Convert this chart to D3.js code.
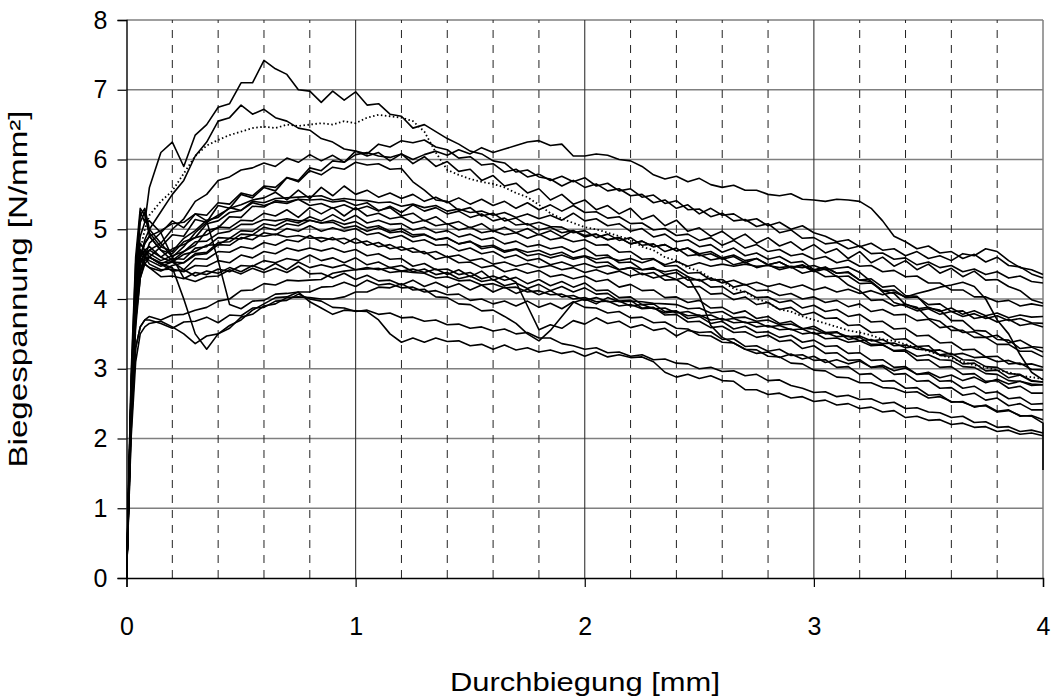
<!DOCTYPE html>
<html><head><meta charset="utf-8">
<script src="https://cdn.jsdelivr.net/npm/d3@7"></script>
<style>body{margin:0;background:#fff}svg{display:block}text{font-family:"Liberation Sans",Arial,sans-serif;fill:#000}</style>
</head><body>
<svg id="chart" width="1053" height="700"></svg>
<script>
// ---------- data ----------
const xTickValues = [0,1,2,3,4];
const yTickValues = [0,1,2,3,4,5,6,7,8];
const xMinorValues = [0.2,0.4,0.6,0.8,1.2,1.4,1.6,1.8,2.2,2.4,2.6,2.8,3.2,3.4,3.6,3.8];
const xTitle = "Durchbiegung [mm]";
const yTitle = "Biegespannung [N/mm²]";
// deflection sample positions (mm): start of loading, then every 0.05 mm, plus a final reading at 4 mm
const xSamples = [0,0.02,0.04,0.06,0.08].concat(d3.range(0,79).map(i=>+(0.1+i*0.05).toFixed(2))).concat([4.0]);

// stress readings (N/mm²) of each specimen at xSamples
const c01 = [0,2.6,4.3,5.25,5.1,5.6, 6.1,6.25,5.9,6.35,6.5,6.75,6.8,7.1,7.1,7.42, 7.3,7.22,7.0,6.98,6.82,6.98,6.85,6.97,6.78,6.8, 6.65,6.62,6.45,6.5,6.4,6.3,6.22,6.12,6.08,5.98, 5.95,5.82,5.85,5.75,5.72,5.62,5.7,5.6,5.65,5.55, 5.58,5.48,5.5,5.38,5.42,5.3,5.35,5.22,5.3,5.2, 5.22,5.12,5.15,5.05,5.1,5.0,5.05,4.95,4.9,4.82, 4.85,4.75,4.8,4.7,4.72,4.62,4.68,4.58,4.62,4.55, 4.65,4.62,4.72,4.68,4.55,4.45,4.42,4.35];
const c02 = [0,2.4,4.0,4.7,5.0,5.2, 5.4,5.55,5.8,6.05,6.2,6.28,6.35,6.4,6.45,6.47, 6.45,6.5,6.48,6.5,6.52,6.5,6.55,6.52,6.6,6.64, 6.62,6.6,6.55,6.4,6.1,5.85,5.78,5.72,5.68,5.65, 5.6,5.52,5.46,5.35,5.23,5.15,5.09,5.03,5.0,4.95, 4.9,4.85,4.75,4.7,4.6,4.55,4.45,4.4,4.3,4.25, 4.15,4.1,4.0,3.95,3.85,3.82,3.75,3.7,3.65,3.6, 3.55,3.52,3.48,3.42,3.4,3.35,3.3,3.25,3.2,3.15, 3.1,3.05,3.02,2.98,2.95,2.9,2.88,2.85];
const c03 = [0,2.5,3.9,4.6,4.85,5.0, 5.25,5.5,5.7,6.05,6.25,6.55,6.6,6.78,6.65,6.72, 6.6,6.55,6.45,6.42,6.3,6.25,6.15,6.12,6.05,6.1, 5.98,6.08,5.94,6.04,5.9,5.97,5.83,5.86,5.7,5.77, 5.62,5.66,5.52,5.58,5.42,5.5,5.36,5.42,5.28,5.34, 5.22,5.3,5.14,5.2,5.05,5.13,4.97,5.02,4.9,4.97, 4.85,4.93,4.8,4.88,4.76,4.82,4.7,4.78,4.66,4.72, 4.58,4.68,4.52,4.6,4.47,4.55,4.42,4.5,4.37,4.44, 4.32,4.4,4.27,4.28,4.18,4.12,3.99,3.94];
const c04 = [0,2.4,3.8,4.4,4.6,4.7, 4.8,5.0,5.15,5.4,5.5,5.7,5.75,5.85,5.88,5.95, 5.9,6.02,5.96,6.07,5.98,6.06,5.96,6.07,6.1,6.05, 6.03,6.08,6.0,6.07,6.12,6.06,6.14,6.08,6.17,6.1, 6.15,6.2,6.25,6.27,6.2,6.22,6.05,6.05,6.08,6.06, 6.0,5.98,5.9,5.78,5.72,5.76,5.68,5.73,5.64,5.6, 5.63,5.56,5.56,5.5,5.48,5.51,5.43,5.42,5.4,5.43, 5.42,5.4,5.3,5.12,4.9,4.82,4.72,4.76,4.66,4.68, 4.58,4.64,4.53,4.6,4.48,4.46,4.36,4.3];
const c05 = [0,2.3,3.7,4.4,4.6,4.8, 4.95,5.12,5.02,5.22,5.2,5.38,5.36,5.52,5.48,5.62, 5.6,5.74,5.7,5.88,5.84,5.98,5.96,6.12,6.08,6.22, 6.18,6.27,6.24,6.28,6.18,6.14,6.02,6.04,5.92,5.94, 5.82,5.86,5.75,5.79,5.7,5.76,5.68,5.74,5.62,5.66, 5.55,5.58,5.46,5.49,5.37,5.41,5.28,5.29,5.18,5.23, 5.12,5.14,5.04,5.08,4.95,4.99,4.87,4.88,4.79,4.81, 4.72,4.76,4.65,4.66,4.57,4.59,4.49,4.53,4.45,4.48, 4.39,4.43,4.35,4.39,4.3,4.33,4.25,4.23];
const c06 = [0,2.5,4.0,4.7,4.6,4.6, 4.75,4.92,4.9,5.14,5.1,5.34,5.3,5.5,5.45,5.6, 5.55,5.74,5.68,5.84,5.78,5.89,5.86,5.96,5.92,5.94, 5.86,5.87,5.68,5.56,5.42,5.4,5.27,5.31,5.19,5.23, 5.12,5.16,5.06,5.1,5.04,5.03,4.95,4.98,4.88,4.93, 4.84,4.88,4.77,4.79,4.68,4.73,4.62,4.64,4.56,4.59, 4.49,4.53,4.45,4.49,4.42,4.46,4.37,4.41,4.32,4.33, 4.2,4.12,3.98,3.99,3.9,3.93,3.86,3.88,3.82,3.87, 3.78,3.83,3.76,3.8,3.73,3.77,3.74,3.75];
const m01 = [0,2.8,4.5,5.2,5.3,5.0, 4.8,4.6,4.75,4.95,5.1,5.2,5.3,5.35,5.42,5.45, 5.53,5.42,5.56,5.44,5.6,5.48,5.62,5.5,5.56,5.46, 5.52,5.44,5.5,5.4,5.46,5.38,5.45,5.36,5.43,5.34, 5.4,5.3,5.38,5.28,5.35,5.26,5.34,5.24,5.25,5.16, 5.18,5.08,5.09,4.99,5.01,4.91,4.93,4.84,4.88,4.77, 4.84,4.73,4.78,4.68,4.71,4.62,4.65,4.57,4.61,4.52, 4.56,4.47,4.48,4.39,4.41,4.32,4.33,4.23,4.23,4.13, 4.13,4.03,4.03,3.96,3.98,3.9,3.93,3.9];
const m02 = [0,2.5,4.0,4.6,4.8,4.9, 4.7,4.65,4.82,4.88,5.08,5.12,5.24,5.27,5.4,5.38, 5.44,5.45,5.46,5.47,5.48,5.42,5.44,5.42,5.41,5.38, 5.39,5.33,5.36,5.31,5.34,5.26,5.29,5.24,5.26,5.2, 5.24,5.17,5.22,5.15,5.2,5.13,5.23,5.12,5.15,5.05, 5.08,4.97,5.01,4.89,4.93,4.82,4.85,4.75,4.78,4.67, 4.73,4.62,4.66,4.57,4.61,4.52,4.54,4.42,4.46,4.37, 4.39,4.27,4.29,4.17,4.19,4.05,4.04,3.87,3.84,3.69, 3.69,3.55,3.54,3.42,3.41,3.29,3.31,3.24];
const m03 = [0,2.7,4.3,5.1,5.25,4.9, 4.7,4.55,4.68,4.77,4.98,5.02,5.18,5.17,5.33,5.32, 5.41,5.39,5.43,5.42,5.43,5.39,5.41,5.34,5.38,5.27, 5.31,5.19,5.23,5.12,5.18,5.07,5.11,5.02,5.08,4.97, 5.03,4.95,5.01,4.92,4.98,4.89,4.98,4.91,4.93,4.85, 4.88,4.79,4.83,4.75,4.78,4.69,4.73,4.62,4.65,4.57, 4.61,4.52,4.58,4.49,4.53,4.45,4.49,4.41,4.45,4.37, 4.38,4.27,4.25,4.12,4.08,3.92,3.88,3.72,3.68,3.55, 3.55,3.45,3.45,3.35,3.35,3.25,3.25,3.17];
const m04 = [0,2.4,3.9,4.5,4.7,4.75, 4.6,4.72,4.78,4.88,4.92,5.03,5.02,5.13,5.12,5.23, 5.19,5.28,5.17,5.31,5.22,5.31,5.19,5.31,5.19,5.23, 5.15,5.18,5.09,5.13,5.05,5.08,4.99,5.03,4.95,4.98, 4.92,4.95,4.87,4.93,4.85,4.88,4.82,4.85,4.77,4.78, 4.67,4.68,4.57,4.58,4.47,4.48,4.37,4.38,4.27,4.28, 4.17,4.21,4.12,4.13,4.05,4.08,4.0,4.03,3.95,3.98, 3.89,3.93,3.82,3.85,3.77,3.78,3.69,3.71,3.59,3.61, 3.52,3.53,3.45,3.48,3.37,3.41,3.32,3.3];
const m05 = [0,2.6,4.1,4.8,4.7,4.6, 4.5,4.58,4.57,4.73,4.75,4.88,4.87,4.98,4.97,5.08, 5.05,5.13,5.09,5.18,5.12,5.21,5.12,5.2,5.09,5.13, 5.07,5.08,4.99,5.03,4.95,4.98,4.89,4.93,4.85,4.88, 4.79,4.83,4.75,4.78,4.72,4.75,4.67,4.73,4.62,4.63, 4.52,4.53,4.42,4.45,4.35,4.38,4.27,4.28,4.17,4.18, 4.07,4.11,4.02,4.03,3.95,3.98,3.87,3.91,3.82,3.85, 3.75,3.78,3.67,3.68,3.57,3.58,3.47,3.48,3.37,3.38, 3.27,3.28,3.17,3.18,3.07,3.08,2.99,2.98];
const m06 = [0,2.3,3.8,4.4,4.6,4.55, 4.47,4.53,4.52,4.65,4.67,4.81,4.82,4.93,4.92,5.03, 4.99,5.08,5.05,5.13,5.09,5.13,5.07,5.11,5.02,5.05, 4.97,5.01,4.92,4.93,4.85,4.88,4.79,4.83,4.72,4.75, 4.67,4.71,4.62,4.65,4.59,4.63,4.57,4.61,4.52,4.53, 4.42,4.45,4.35,4.38,4.27,4.28,4.17,4.18,4.07,4.08, 3.99,4.03,3.92,3.95,3.85,3.88,3.77,3.81,3.72,3.73, 3.62,3.63,3.52,3.53,3.42,3.43,3.32,3.33,3.19,3.18, 3.07,3.08,2.97,2.98,2.87,2.91,2.82,2.81];
const m07 = [0,2.5,4.0,4.6,4.5,4.45, 4.4,4.48,4.52,4.63,4.65,4.78,4.77,4.88,4.85,4.95, 4.92,5.01,4.97,5.05,4.97,5.02,4.97,5.01,4.92,4.95, 4.87,4.91,4.82,4.85,4.77,4.78,4.69,4.73,4.65,4.68, 4.59,4.63,4.55,4.58,4.49,4.53,4.47,4.51,4.45,4.48, 4.42,4.45,4.42,4.43,4.39,4.42,4.32,4.05,3.62,3.45, 3.37,3.28,3.22,3.24,3.16,3.21,3.14,3.18,3.09,3.13, 3.07,3.11,3.02,3.05,2.97,3.01,2.92,2.95,2.87,2.91, 2.83,2.88,2.8,2.85,2.78,2.82,2.76,2.77];
const m08 = [0,2.2,3.6,4.3,4.55,4.6, 4.52,4.53,4.42,4.58,4.57,4.68,4.67,4.75,4.72,4.81, 4.77,4.85,4.82,4.91,4.82,4.88,4.79,4.87,4.77,4.81, 4.72,4.75,4.67,4.68,4.57,4.61,4.52,4.53,4.45,4.48, 4.39,4.43,4.37,4.41,4.32,4.35,4.29,4.33,4.25,4.28, 4.17,4.21,4.12,4.13,4.02,4.03,3.95,3.98,3.87,3.88, 3.79,3.83,3.72,3.75,3.65,3.68,3.57,3.61,3.52,3.53, 3.42,3.45,3.35,3.35,3.25,3.25,3.12,3.13,3.02,3.03, 2.92,2.93,2.82,2.83,2.72,2.75,2.65,2.65];
const m09 = [0,2.6,4.1,4.7,4.6,4.5, 4.42,4.43,4.39,4.48,4.47,4.55,4.52,4.63,4.59,4.68, 4.65,4.73,4.69,4.73,4.69,4.73,4.67,4.71,4.62,4.65, 4.57,4.58,4.47,4.51,4.42,4.43,4.35,4.38,4.29,4.33, 4.27,4.31,4.22,4.28,4.19,4.25,4.17,4.23,4.12,4.13, 4.02,4.03,3.92,3.93,3.82,3.83,3.72,3.75,3.65,3.68, 3.57,3.61,3.52,3.53,3.45,3.48,3.38,3.41,3.32,3.33, 3.22,3.23,3.12,3.13,3.02,3.03,2.92,2.93,2.82,2.83, 2.72,2.75,2.65,2.67,2.57,2.59,2.49,2.5];
const m10 = [0,2.4,3.8,4.4,4.5,4.45, 4.32,4.33,4.29,4.38,4.35,4.43,4.39,4.48,4.47,4.55, 4.52,4.58,4.55,4.63,4.55,4.59,4.52,4.59,4.49,4.53, 4.45,4.48,4.39,4.43,4.35,4.38,4.29,4.33,4.25,4.28, 4.19,4.23,4.15,4.21,4.12,4.18,4.1,4.16,4.07,4.08, 3.97,3.98,3.87,3.88,3.77,3.78,3.67,3.68,3.59,3.61, 3.52,3.53,3.45,3.48,3.39,3.41,3.29,3.33,3.22,3.23, 3.12,3.13,3.02,3.03,2.92,2.93,2.82,2.83,2.72,2.73, 2.62,2.65,2.55,2.58,2.47,2.5,2.41,2.41];
const m11 = [0,2.3,3.7,4.3,4.5,4.6, 4.5,4.4,4.42,4.33,4.4,4.37,4.45,4.39,4.48,4.42, 4.51,4.42,4.53,4.45,4.49,4.45,4.49,4.42,4.45,4.42, 4.45,4.4,4.43,4.38,4.43,4.35,4.42,4.32,4.4,4.27, 4.33,4.24,3.9,3.56,3.63,3.58,3.69,3.64,3.73,3.65, 3.68,3.59,3.63,3.55,3.58,3.47,3.55,3.52,3.53,3.42, 3.43,3.32,3.33,3.25,3.28,3.19,3.2,3.12,3.13,3.02, 3.03,2.92,2.93,2.82,2.83,2.72,2.73,2.62,2.63,2.52, 2.53,2.45,2.48,2.39,2.41,2.32,2.33,2.27];
const m12 = [0,2.9,4.6,5.3,5.2,4.95, 4.75,4.68,4.87,4.98,5.13,5.17,5.31,5.27,5.38,5.34, 5.39,5.37,5.43,5.34,5.37,5.3,5.35,5.28,5.33,5.26, 5.33,5.24,5.35,5.26,5.31,5.22,5.26,5.17,5.22,5.12, 5.16,5.06,5.08,4.99,5.03,4.95,4.98,4.89,4.93,4.85, 4.88,4.79,4.83,4.75,4.78,4.69,4.73,4.65,4.68,4.59, 4.63,4.55,4.58,4.49,4.53,4.45,4.48,4.39,4.43,4.32, 4.33,4.22,4.23,4.12,4.13,4.02,4.03,3.92,3.93,3.82, 3.83,3.72,3.75,3.67,3.71,3.62,3.65,3.6];
const m13 = [0,2.4,3.9,4.5,4.65,4.7, 4.6,4.53,4.64,4.68,4.77,4.78,4.87,4.86,4.92,4.9, 4.93,4.89,4.91,4.87,4.88,4.85,4.87,4.8,4.83,4.75, 4.78,4.7,4.73,4.65,4.68,4.6,4.63,4.55,4.58,4.5, 4.53,4.47,4.51,4.45,4.48,4.42,4.45,4.38,4.42,4.36, 4.4,4.33,4.37,4.3,4.34,4.28,4.32,4.26,4.3,4.23, 4.27,4.2,4.24,4.18,4.22,4.16,4.2,4.13,4.17,4.1, 4.14,4.08,4.12,4.06,4.1,4.03,4.08,4.12,4.17,4.2, 4.24,4.18,4.0,3.7,3.5,3.2,2.95,2.84];
const m14 = [0,2.5,4.0,4.6,4.7,4.65, 4.55,4.62,4.68,4.82,4.83,4.94,4.97,5.07,5.07,5.14, 5.12,5.15,5.12,5.13,5.09,5.1,5.02,5.05,4.97,5.02, 4.95,4.97,4.89,4.92,4.85,4.87,4.79,4.82,4.75,4.77, 4.69,4.72,4.67,4.7,4.63,4.67,4.59,4.62,4.57,4.6, 4.55,4.58,4.52,4.57,4.49,4.54,4.47,4.52,4.47,4.5, 4.47,4.5,4.47,4.48,4.45,4.47,4.45,4.48,4.42,4.44, 4.46,4.38,4.25,4.1,3.95,3.9,3.83,3.86,3.78,3.82, 3.75,3.79,3.72,3.76,3.69,3.72,3.66,3.65];
const l01 = [0,2.0,3.1,3.5,3.6,3.65, 3.68,3.6,3.5,3.36,3.47,3.5,3.62,3.7,3.84,3.93, 4.02,4.03,4.1,3.96,3.87,3.78,3.84,3.83,3.82,3.7, 3.5,3.38,3.44,3.38,3.44,3.39,3.4,3.33,3.35,3.28, 3.34,3.27,3.3,3.24,3.27,3.22,3.25,3.18,3.24,3.17, 3.2,3.16,3.17,3.1,2.95,2.88,2.92,2.86,2.9,2.83, 2.82,2.7,2.7,2.63,2.65,2.58,2.6,2.53,2.55,2.48, 2.5,2.43,2.45,2.38,2.4,2.3,2.32,2.26,2.27,2.2, 2.22,2.16,2.17,2.1,2.12,2.06,2.08,2.04];
const l02 = [0,2.1,3.3,3.6,3.7,3.7, 3.65,3.58,3.67,3.68,3.74,3.66,3.77,3.76,3.87,3.88, 3.97,3.98,4.07,4.0,3.97,3.88,3.87,3.82,3.84,3.78, 3.8,3.73,3.74,3.68,3.7,3.63,3.64,3.58,3.6,3.54, 3.57,3.5,3.52,3.44,3.44,3.36,3.33,3.28,3.3,3.23, 3.24,3.18,3.2,3.13,3.14,3.08,3.07,3.0,3.02,2.96, 2.97,2.9,2.92,2.83,2.84,2.76,2.72,2.66,2.67,2.6, 2.62,2.56,2.57,2.5,2.52,2.43,2.44,2.38,2.37,2.3, 2.32,2.23,2.24,2.16,2.17,2.1,2.12,2.08];
const l03 = [0,2.6,4.1,4.6,4.7,4.6, 4.5,4.45,4.0,3.5,3.28,3.5,3.58,3.74,3.78,3.9, 3.93,4.02,4.03,4.02,4.0,4.0,4.03,4.1,4.1,4.17, 4.16,4.22,4.13,4.14,4.03,4.02,3.93,3.92,3.83,3.84, 3.75,3.65,3.5,3.4,3.55,3.75,3.95,4.0,3.93,4.02, 3.96,3.97,3.96,3.94,3.93,3.92,3.86,3.87,3.8,3.82, 3.73,3.74,3.68,3.7,3.63,3.64,3.58,3.57,3.5,3.52, 3.46,3.47,3.4,3.42,3.33,3.34,3.28,3.27,3.2,3.22, 3.13,3.12,3.03,3.02,2.93,2.92,2.83,2.81];
const l04 = [0,2.7,4.3,4.9,5.1,5.12, 4.95,4.6,4.3,4.25,4.32,4.33,4.42,4.36,4.44,4.38, 4.44,4.38,4.47,4.36,4.37,4.3,4.37,4.28,4.34,4.26, 4.27,4.2,4.27,4.18,4.24,4.16,4.22,4.13,4.2,4.1, 4.17,4.08,4.14,4.06,4.12,4.03,4.05,3.98,4.02,3.96, 3.97,3.9,3.92,3.86,3.87,3.8,3.82,3.76,3.77,3.7, 3.72,3.66,3.67,3.6,3.62,3.56,3.57,3.5,3.52,3.46, 3.47,3.4,3.42,3.36,3.37,3.3,3.32,3.26,3.27,3.2, 3.22,3.16,3.17,3.1,3.12,3.06,3.07,3.02];
const l05 = [0,2.2,3.3,3.6,3.7,3.75, 3.7,3.77,3.78,3.84,3.88,3.97,4.0,4.12,4.13,4.22, 4.2,4.27,4.26,4.27,4.28,4.37,4.4,4.42,4.43,4.44, 4.38,4.4,4.38,4.37,4.3,4.32,4.26,4.27,4.2,4.22, 4.16,4.17,4.1,4.12,4.06,4.07,4.0,4.02,3.96,3.97, 3.9,3.92,3.86,3.87,3.8,3.82,3.76,3.77,3.7,3.72, 3.66,3.67,3.6,3.62,3.56,3.57,3.5,3.52,3.43,3.44, 3.38,3.4,3.33,3.34,3.26,3.27,3.18,3.2,3.13,3.12, 3.03,3.02,2.93,2.92,2.83,2.82,2.78,2.77];
const l06 = [0,2.5,4.0,4.6,4.8,4.9, 4.98,5.08,5.1,5.22,5.12,4.55,3.92,3.86,3.97,3.98, 4.07,4.08,4.1,4.1,4.17,4.18,4.24,4.18,4.27,4.2, 4.22,4.16,4.17,4.1,4.12,4.06,4.07,3.98,4.0,3.93, 3.97,3.9,3.97,3.88,3.94,3.86,3.96,3.88,3.87,3.8, 3.82,3.73,3.74,3.66,3.67,3.58,3.57,3.48,3.47,3.38, 3.37,3.28,3.27,3.18,3.17,3.08,3.07,2.98,2.97,2.88, 2.87,2.8,2.8,2.73,2.72,2.66,2.67,2.58,2.6,2.53, 2.52,2.46,2.47,2.38,2.4,2.33,2.32,2.22,1.55];

const solidSeries = [c01,c03,c04,c05,c06,m01,m02,m03,m04,m05,m06,m07,m08,m09,m10,m11,m12,m13,m14,l01,l02,l03,l04,l05,l06];
const dottedSeries = [c02];

// ---------- chart ----------
const svg = d3.select("#chart");
const x = d3.scaleLinear().domain([0,4]).range([126.5,1043]);
const y = d3.scaleLinear().domain([0,8]).range([578,20]);

const grid = svg.append("g");
grid.selectAll("line.h").data(yTickValues.filter(v=>v>0)).join("line")
  .attr("x1",x(0)).attr("x2",x(4)).attr("y1",d=>y(d)).attr("y2",d=>y(d))
  .attr("stroke","#7f7f7f").attr("stroke-width",1.3);
grid.selectAll("line.m").data(xMinorValues).join("line")
  .attr("x1",d=>x(d)).attr("x2",d=>x(d)).attr("y1",y(0)).attr("y2",y(8))
  .attr("stroke","#222").attr("stroke-width",1).attr("stroke-dasharray","8,7");
grid.selectAll("line.v").data(xTickValues.filter(v=>v>0)).join("line")
  .attr("x1",d=>x(d)).attr("x2",d=>x(d)).attr("y1",y(0)).attr("y2",y(8))
  .attr("stroke",d=>d===4?"#7f7f7f":"#333").attr("stroke-width",d=>d===4?1.5:1.1);

svg.append("clipPath").attr("id","clip").append("rect")
  .attr("x",x(0)).attr("y",y(8)-2).attr("width",x(4)-x(0)+2).attr("height",y(0)-y(8)+2);

const line = d3.line().defined(d=>d[1]!=null).x(d=>x(d[0])).y(d=>y(d[1]));
const toPts = arr => arr.map((v,i)=>[xSamples[i],v]);

const plot = svg.append("g").attr("clip-path","url(#clip)");
plot.selectAll("path.s").data(solidSeries).join("path")
  .attr("d",d=>line(toPts(d))).attr("fill","none")
  .attr("stroke","#000").attr("stroke-width",1.6).attr("stroke-linejoin","round");
plot.selectAll("path.d").data(dottedSeries).join("path")
  .attr("d",d=>line(toPts(d))).attr("fill","none")
  .attr("stroke","#000").attr("stroke-width",1.8).attr("stroke-dasharray","1.5,2.5");

const yAxis = d3.axisLeft(y).tickValues(yTickValues).tickSize(9).tickPadding(10).tickFormat(d3.format("d"));
const xAxis = d3.axisBottom(x).tickValues(xTickValues).tickSize(9).tickPadding(30).tickFormat(d3.format("d"));
const ga = svg.append("g").attr("transform",`translate(${x(0)},0)`).call(yAxis);
const gb = svg.append("g").attr("transform",`translate(0,${y(0)})`).call(xAxis);
[ga,gb].forEach(g=>{
  g.select(".domain").attr("stroke","#000").attr("stroke-width",1.4);
  g.selectAll(".tick line").attr("stroke","#000").attr("stroke-width",1.2);
  g.selectAll(".tick text").attr("font-size",25).attr("font-family","'Liberation Sans',Arial,sans-serif").attr("fill","#000");
});

svg.append("text").attr("x",585).attr("y",691).attr("text-anchor","middle")
  .attr("font-size",25).attr("textLength",270).attr("lengthAdjust","spacingAndGlyphs").text(xTitle);
svg.append("text").attr("transform","translate(27,289) rotate(-90)").attr("text-anchor","middle")
  .attr("font-size",25).attr("textLength",357).attr("lengthAdjust","spacingAndGlyphs").text(yTitle);
</script>
</body></html>
